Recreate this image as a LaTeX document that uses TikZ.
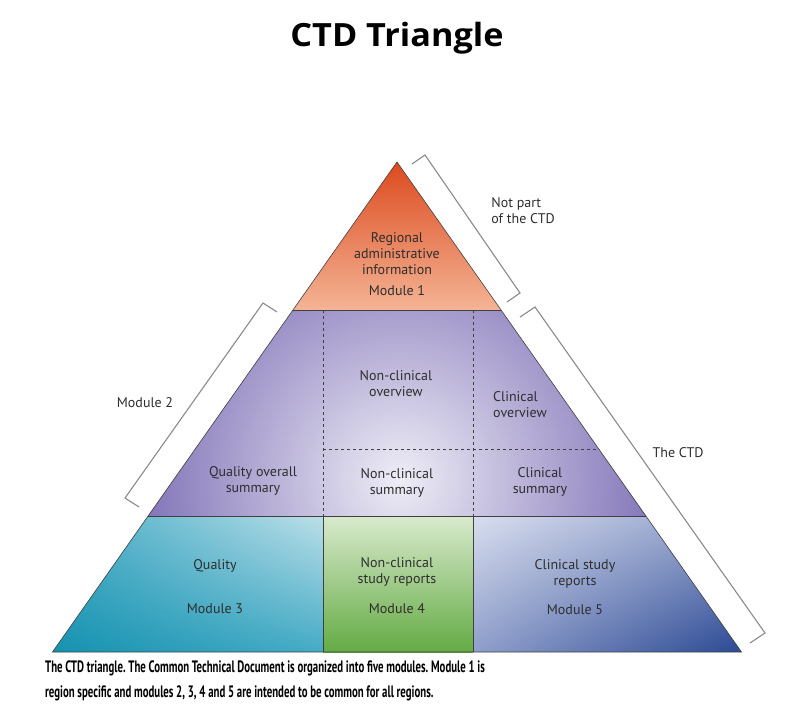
\documentclass[tikz,border=0pt]{standalone}
\usepackage{fontspec}
\setmainfont{PT Sans}
\newfontfamily\titlefont{Open Sans}
\usepackage{tikz}
\usetikzlibrary{shadings}
\frenchspacing

\definecolor{orangetop}{HTML}{DC4A1F}
\definecolor{orangebot}{HTML}{F4B495}
\definecolor{lilacout}{HTML}{7B6CB4}
\definecolor{lilacin}{HTML}{EEEDF6}
\definecolor{tealdark}{HTML}{1592B0}
\definecolor{tealmid}{HTML}{45ABC6}
\definecolor{teallight}{HTML}{BCDFE8}
\definecolor{greendark}{HTML}{64AB44}
\definecolor{greenlight}{HTML}{D8EACD}
\definecolor{bluedark}{HTML}{2B4993}
\definecolor{bluemid}{HTML}{7D8EC2}
\definecolor{bluelight}{HTML}{D8DEEE}
\definecolor{bracketgray}{HTML}{8A8A8A}
\definecolor{txt}{HTML}{2E2E2E}

\begin{document}
\begin{tikzpicture}[x=1pt, y=1pt,
	lbl/.style={text=txt, font=\fontsize{14}{16}\selectfont, align=center, inner sep=0pt},
	brk/.style={draw=bracketgray, line width=1.1pt},
	outline/.style={draw=black!75, line width=0.6pt},
	dashline/.style={draw=black!75, line width=0.6pt, dashed}]
	\useasboundingbox (0,0) rectangle (802,724);
	
	% corners of the triangle and its bands
	\coordinate (top) at (397,562);
	\coordinate (l1) at (293,414); \coordinate (r1) at (501,414);
	\coordinate (l2) at (148,208); \coordinate (r2) at (646,208);
	\coordinate (l3) at (52.5,72); \coordinate (r3) at (741.5,72);
	\coordinate (a1) at (323,414); \coordinate (b1) at (473,414);
	\coordinate (a2) at (323,208); \coordinate (b2) at (473,208);
	\coordinate (a3) at (323,72); \coordinate (b3) at (473,72);
	\coordinate (a4) at (323,275); \coordinate (m4) at (599,275);
	
	% module 1
	\shade[top color=orangetop, bottom color=orangebot] (top) -- (r1) -- (l1) -- cycle;
	% module 2
	\begin{scope}
		\clip (l1) -- (r1) -- (r2) -- (l2) -- cycle;
		\shade[inner color=lilacin, outer color=lilacout] (400,245) circle (275);
	\end{scope}
	% module 3, 4, 5
	\shade[lower left=tealdark, upper right=teallight, upper left=tealmid, lower right=tealmid] (l2) -- (a2) -- (a3) -- (l3) -- cycle;
	\shade[top color=greenlight, bottom color=greendark] (a2) -- (b2) -- (b3) -- (a3) -- cycle;
	\shade[upper left=bluelight, lower right=bluedark, lower left=bluemid!80!bluelight, upper right=bluemid!80!bluelight] (b2) -- (r2) -- (r3) -- (b3) -- cycle;
	
	\draw[outline] (top) -- (r3) -- (l3) -- cycle;
	\draw[outline] (l1) -- (r1);
	\draw[outline] (l2) -- (r2);
	\draw[outline] (a2) -- (a3);
	\draw[outline] (b2) -- (b3);
	\draw[dashline] (a1) -- (a2);
	\draw[dashline] (b1) -- (b2);
	\draw[dashline] (a4) -- (m4);
	
	% brackets
	\draw[brk] (412,560) -- (425,569) -- (520,431) -- (507,422);
	\draw[brk] (520,407) -- (535,417) -- (765,91) -- (750,81);
	\draw[brk] (277,412) -- (263,421) -- (125,226) -- (139,217);
	
	% labels
	\node[xscale=1.07] (title) at (397,686) {\titlefont\fontsize{32}{36}\selectfont\bfseries CTD Triangle};
	\node[lbl] (regional) at (397,470) {Regional\\administrative\\information};
	\node[lbl] (mod1) at (397,433) {Module 1};
	\node[lbl] (ncover) at (396,340) {Non-clinical\\overview};
	\node[lbl, align=left] (cover) at (520,319) {Clinical\\overview};
	\node[lbl] (qos) at (253,243) {Quality overall\\summary};
	\node[lbl] (ncsum) at (397,241) {Non-clinical\\summary};
	\node[lbl] (csum) at (540,242) {Clinical\\summary};
	\node[lbl] (quality) at (215,158) {Quality};
	\node[lbl] (mod3) at (215,115) {Module 3};
	\node[lbl] (ncstudy) at (397,152) {Non-clinical\\study reports};
	\node[lbl] (mod4) at (397,115) {Module 4};
	\node[lbl] (cstudy) at (575,150) {Clinical study\\reports};
	\node[lbl] (mod5) at (575,114) {Module 5};
	\node[lbl, align=left] (notpart) at (523,513) {Not part\\of the CTD};
	\node[lbl] (thectd) at (678,271) {The CTD};
	\node[lbl] (mod2) at (145,321) {Module 2};
	
	\node[anchor=north west, align=left, inner sep=0pt, xscale=0.655, font=\fontsize{16.5}{24.5}\selectfont\bfseries] (caption) at (45,63)
		{The CTD triangle. The Common Technical Document is organized into five modules. Module 1 is\\
		region specific and modules 2, 3, 4 and 5 are intended to be common for all regions.};
\end{tikzpicture}
\end{document}
